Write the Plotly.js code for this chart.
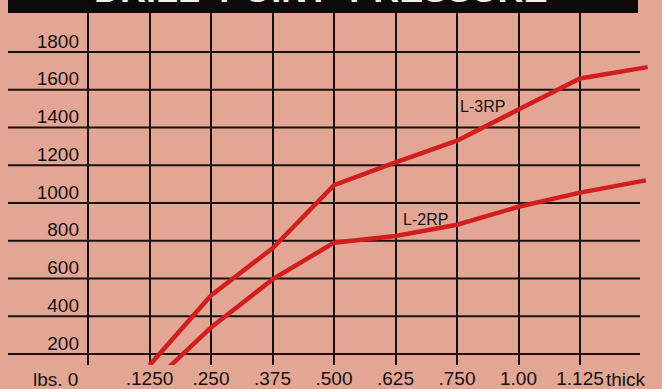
<!DOCTYPE html>
<html>
<head>
<meta charset="utf-8">
<script src="https://cdn.plot.ly/plotly-3.0.1.min.js"></script>
<style>
  html, body { margin: 0; padding: 0; background: #e3a695; }
  #chart { width: 662px; height: 389px; }
</style>
</head>
<body>
<div id="chart"></div>
<script>
// ---- data ----
const thicknessLabels = ['.1250', '.250', '.375', '.500', '.625', '.750', '1.00', '1.125'];
const thicknessPos = [1, 2, 3, 4, 5, 6, 7, 8];
const pressureLabels = [200, 400, 600, 800, 1000, 1200, 1400, 1600, 1800];

const l3rpX = [1, 2, 3, 4, 5, 6, 7, 8, 9.1];
const l3rpY = [140, 510, 760, 1095, 1215, 1330, 1495, 1660, 1720];
const l2rpX = [1.33, 2, 3, 4, 5, 6, 7, 8, 9.07];
const l2rpY = [135, 340, 595, 790, 825, 885, 980, 1055, 1120];

const seriesNames = ['L-3RP', 'L-2RP'];
const titleText = 'DRILL  POINT  PRESSURE';

// ---- layout geometry (pixels) ----
const W = 662, H = 389;
const M = { l: 8, r: 0, t: 13, b: 24 };
const plotW = W - M.l - M.r, plotH = H - M.t - M.b;
const axisPx = 88, stepPx = 61.5;
const xRange = [(M.l - axisPx) / stepPx, (W - M.r - axisPx) / stepPx];
const baseLinePx = 354, baseVal = 200, pxPerUnit = 0.18875;
const yRange = [baseVal - (H - M.b - baseLinePx) / pxPerUnit, baseVal + (baseLinePx - M.t) / pxPerUnit];
const labelLift = 58;
const gridRightPx = 640;
const ink = '#161010', red = '#d21e1e', bg = '#e3a695';

const traces = [
  { x: l3rpX, y: l3rpY, name: seriesNames[0], mode: 'lines', line: { color: red, width: 4.5 }, hoverinfo: 'skip' },
  { x: l2rpX, y: l2rpY, name: seriesNames[1], mode: 'lines', line: { color: red, width: 4.5 }, hoverinfo: 'skip' }
];

const shapes = pressureLabels.map(v => ({
  type: 'line', layer: 'below', xref: 'paper', yref: 'y',
  x0: 0, x1: (gridRightPx - M.l) / plotW, y0: v, y1: v,
  line: { color: ink, width: 2.2 }
}));
shapes.push({
  type: 'rect', xref: 'paper', yref: 'paper', layer: 'above',
  x0: 0, x1: (638 - M.l) / plotW, y0: 1, y1: 1 + M.t / plotH,
  fillcolor: '#0c0a0a', line: { width: 0 }
});

const font = { family: 'Liberation Sans, Arial, sans-serif', color: ink };
const labelY = -((379 - (H - M.b)) / plotH);

const layout = {
  width: W, height: H, margin: M,
  paper_bgcolor: bg, plot_bgcolor: bg,
  showlegend: false,
  xaxis: {
    range: xRange, tickmode: 'array',
    tickvals: [0].concat(thicknessPos), ticktext: [''].concat(thicknessLabels),
    showgrid: true, gridcolor: ink, gridwidth: 2,
    zeroline: false, showline: false, ticks: '',
    tickfont: Object.assign({ size: 19 }, font), fixedrange: true
  },
  yaxis: {
    range: yRange, anchor: 'free', position: (axisPx - M.l) / plotW,
    tickmode: 'array', tickvals: pressureLabels.map(v => v + labelLift),
    ticktext: pressureLabels.map(String),
    showgrid: false, zeroline: false, showline: false, ticks: '',
    ticklabelstandoff: 9,
    tickfont: Object.assign({ size: 19 }, font), fixedrange: true
  },
  shapes: shapes,
  annotations: [
    { xref: 'paper', yref: 'paper', x: (80 - M.l) / plotW, y: labelY,
      xanchor: 'right', yanchor: 'middle', text: 'lbs. 0', showarrow: false,
      font: Object.assign({ size: 19 }, font) },
    { xref: 'paper', yref: 'paper', x: (604 - M.l) / plotW, y: labelY,
      xanchor: 'left', yanchor: 'middle', text: 'thick', showarrow: false,
      font: Object.assign({ size: 19 }, font) },
    { xref: 'x', yref: 'y', x: 6.41, y: 1509, text: seriesNames[0], showarrow: false,
      font: Object.assign({ size: 16 }, font) },
    { xref: 'x', yref: 'y', x: 5.48, y: 915, text: seriesNames[1], showarrow: false,
      font: Object.assign({ size: 16 }, font) },
    { xref: 'paper', yref: 'paper', x: (320 - M.l) / plotW, y: 1 + 1 / plotH, yanchor: 'bottom',
      xanchor: 'center', text: '<b>' + titleText + '</b>', showarrow: false,
      font: { family: 'Liberation Sans, Arial, sans-serif', size: 36, color: '#f4ece6' } }
  ]
};

Plotly.newPlot('chart', traces, layout, { displayModeBar: false, staticPlot: true });
</script>
</body>
</html>
